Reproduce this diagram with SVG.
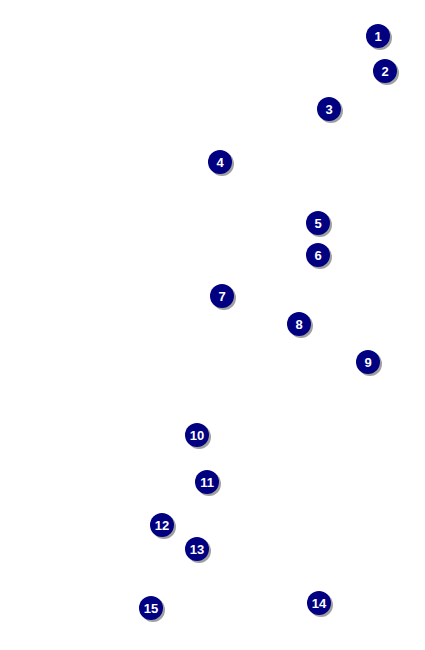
<svg xmlns="http://www.w3.org/2000/svg" width="425" height="650" viewBox="0 0 425 650">
<defs>
<style>
.sh{fill:#a0a0a0}
.c{fill:#000080}
.t{fill:#fff;font-family:"Liberation Sans",Arial,sans-serif;font-weight:bold;font-size:13px;text-anchor:middle}
</style>
<g id="m"><circle class="sh" cx="2" cy="2" r="12"/><circle class="c" cx="0" cy="0" r="12"/></g>
</defs>
<rect width="425" height="650" fill="#fff"/>
<g id="connectors"/>
<g id="n1" transform="translate(378,36)"><use href="#m"/><text class="t" y="5">1</text></g>
<g id="n2" transform="translate(385,71)"><use href="#m"/><text class="t" y="5">2</text></g>
<g id="n3" transform="translate(329,109)"><use href="#m"/><text class="t" y="5">3</text></g>
<g id="n4" transform="translate(220,162)"><use href="#m"/><text class="t" y="5">4</text></g>
<g id="n5" transform="translate(318,223)"><use href="#m"/><text class="t" y="5">5</text></g>
<g id="n6" transform="translate(318,255)"><use href="#m"/><text class="t" y="5">6</text></g>
<g id="n7" transform="translate(222,296)"><use href="#m"/><text class="t" y="5">7</text></g>
<g id="n8" transform="translate(299,324)"><use href="#m"/><text class="t" y="5">8</text></g>
<g id="n9" transform="translate(368,362)"><use href="#m"/><text class="t" y="5">9</text></g>
<g id="n10" transform="translate(197,435)"><use href="#m"/><text class="t" y="5">10</text></g>
<g id="n11" transform="translate(207,482)"><use href="#m"/><text class="t" y="5">11</text></g>
<g id="n12" transform="translate(162,525)"><use href="#m"/><text class="t" y="5">12</text></g>
<g id="n13" transform="translate(197,549)"><use href="#m"/><text class="t" y="5">13</text></g>
<g id="n14" transform="translate(319,603)"><use href="#m"/><text class="t" y="5">14</text></g>
<g id="n15" transform="translate(151,608)"><use href="#m"/><text class="t" y="5">15</text></g>
</svg>
